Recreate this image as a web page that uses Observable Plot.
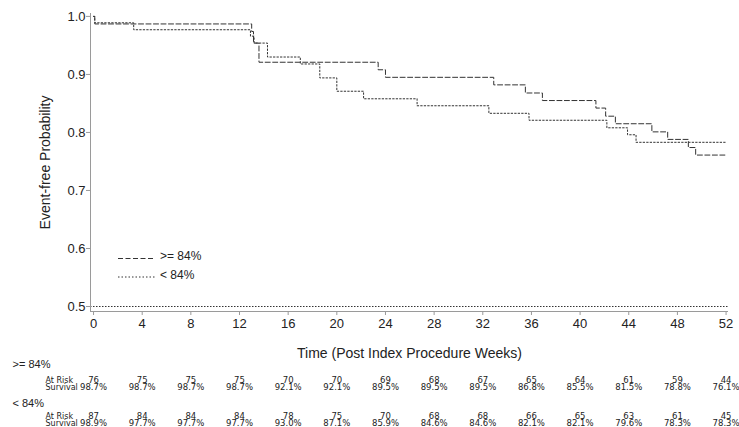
<!DOCTYPE html>
<html>
<head>
<meta charset="utf-8">
<script src="https://cdn.jsdelivr.net/npm/d3@7"></script>
<script src="https://cdn.jsdelivr.net/npm/@observablehq/plot@0.6"></script>
<style>
  body { margin: 0; background: #fff; }
  svg { display: block; }
</style>
</head>
<body>
<div id="chart"></div>
<script>
// Kaplan–Meier event-free probability, two groups
const groups = [">= 84%", "< 84%"];

// >= 84% group: event times (weeks) and survival after each step
const highTimes = [0, 0.1, 13.0, 13.15, 13.6, 23.4, 24.0, 32.9, 35.5, 36.9, 41.3, 42.1, 42.9, 45.9, 47.2, 48.9, 49.5, 52.0];
const highSurv  = [1.0, 0.987, 0.974, 0.954, 0.921, 0.908, 0.895, 0.882, 0.868, 0.855, 0.842, 0.828, 0.815, 0.801, 0.788, 0.774, 0.761, 0.761];

// < 84% group
const lowTimes = [0, 0.1, 3.3, 12.9, 13.2, 14.3, 17.0, 18.6, 20.0, 22.2, 26.6, 32.5, 35.8, 42.2, 43.9, 44.6, 52.0];
const lowSurv  = [1.0, 0.989, 0.977, 0.966, 0.954, 0.930, 0.918, 0.894, 0.871, 0.858, 0.846, 0.833, 0.821, 0.808, 0.796, 0.783, 0.783];

// Number-at-risk table
const tableWeeks = [0, 4, 8, 12, 16, 20, 24, 28, 32, 36, 40, 44, 48, 52];
const highAtRisk = [76, 75, 75, 75, 70, 70, 69, 68, 67, 65, 64, 61, 59, 44];
const highSurvivalPct = [98.7, 98.7, 98.7, 98.7, 92.1, 92.1, 89.5, 89.5, 89.5, 86.8, 85.5, 81.5, 78.8, 76.1];
const lowAtRisk = [87, 84, 84, 84, 78, 75, 70, 68, 68, 66, 65, 63, 61, 45];
const lowSurvivalPct = [98.9, 97.7, 97.7, 97.7, 93.0, 87.1, 85.9, 84.6, 84.6, 82.1, 82.1, 79.6, 78.3, 78.3];
const rowLabels = ["At Risk", "Survival"];

const yTicks = [0.5, 0.6, 0.7, 0.8, 0.9, 1.0];
const xTicks = tableWeeks;
const referenceLevel = 0.5;
const xTitle = "Time (Post Index Procedure Weeks)";
const yTitle = "Event-free Probability";

const xDomain = [-0.25, 52.2];
const yDomain = [0.4914, 1.005];

const highData = highTimes.map((t, i) => ({t, s: highSurv[i]}));
const lowData = lowTimes.map((t, i) => ({t, s: lowSurv[i]}));
const pct = v => v.toFixed(1) + "%";
const highRows = tableWeeks.map((t, i) => ({t, n: highAtRisk[i], p: pct(highSurvivalPct[i])}));
const lowRows = tableWeeks.map((t, i) => ({t, n: lowAtRisk[i], p: pct(lowSurvivalPct[i])}));

const FONT = "'Liberation Sans', Arial, Helvetica, sans-serif";
const TABLE_FONT = "'DejaVu Sans', Verdana, sans-serif";
const AXIS = "#9a9a9a";
const INK = "#222";
const mLeft = 90, mTop = 13, mBottom = 116, mRight = 11;
const frameBottom = 427 - mBottom;

// table row offsets below the frame
const tbl = {head1: 53, risk1: 68.5, surv1: 75.5, head2: 92, risk2: 104.5, surv2: 111.5};
const tableText = {lineAnchor: "middle", fontSize: 8.5, fontFamily: TABLE_FONT, fill: INK};
const rowLabel = (label, dy) =>
  Plot.text([label], {text: d => d, frameAnchor: "bottom-left", dx: -45, dy, textAnchor: "start", ...tableText, fontSize: 8});

const plot = Plot.plot({
  width: 739,
  height: 427,
  marginLeft: mLeft,
  marginRight: mRight,
  marginTop: mTop,
  marginBottom: mBottom,
  style: {fontFamily: FONT, fontSize: "13px", color: INK, background: "#fff", overflow: "visible"},
  x: {domain: xDomain},
  y: {domain: yDomain},
  marks: [
    Plot.ruleY([referenceLevel], {stroke: "#333", strokeDasharray: "1.5,1.5"}),
    Plot.ruleX([xDomain[0]], {stroke: AXIS}),
    Plot.ruleY([yDomain[0]], {stroke: AXIS}),
    Plot.axisY({ticks: yTicks, tickFormat: ".1f", tickSize: 4, tickPadding: 1, stroke: AXIS, fill: INK, label: null, fontSize: 13}),
    Plot.axisX({ticks: xTicks, tickSize: 4, tickPadding: 3, stroke: AXIS, fill: INK, label: null, fontSize: 13}),
    Plot.line(highData, {x: "t", y: "s", curve: "step-after", stroke: "#333", strokeWidth: 1, strokeDasharray: "5,2.5"}),
    Plot.line(lowData, {x: "t", y: "s", curve: "step-after", stroke: "#333", strokeWidth: 1, strokeDasharray: "1.5,2"}),
    // axis titles
    Plot.text([yTitle], {text: d => d, frameAnchor: "left", rotate: -90, dx: -44.5, textAnchor: "middle", lineAnchor: "middle", fontSize: 14, fill: INK}),
    Plot.text([xTitle], {text: d => d, frameAnchor: "bottom", dy: 42, textAnchor: "middle", lineAnchor: "middle", fontSize: 14, fill: INK}),
    // at-risk table: group headings and row labels
    Plot.text([groups[0]], {text: d => d, frameAnchor: "bottom-left", dx: -78, dy: tbl.head1, textAnchor: "start", lineAnchor: "middle", fontSize: 11, fill: INK}),
    Plot.text([groups[1]], {text: d => d, frameAnchor: "bottom-left", dx: -78, dy: tbl.head2, textAnchor: "start", lineAnchor: "middle", fontSize: 11, fill: INK}),
    rowLabel(rowLabels[0], tbl.risk1),
    rowLabel(rowLabels[1], tbl.surv1),
    rowLabel(rowLabels[0], tbl.risk2),
    rowLabel(rowLabels[1], tbl.surv2),
    // at-risk table values, aligned to the week ticks
    Plot.text(highRows, {x: "t", text: "n", frameAnchor: "bottom", dy: tbl.risk1, ...tableText}),
    Plot.text(highRows, {x: "t", text: "p", frameAnchor: "bottom", dy: tbl.surv1, ...tableText}),
    Plot.text(lowRows, {x: "t", text: "n", frameAnchor: "bottom", dy: tbl.risk2, ...tableText}),
    Plot.text(lowRows, {x: "t", text: "p", frameAnchor: "bottom", dy: tbl.surv2, ...tableText})
  ]
});

// In-plot legend, lower left of the frame
const svg = d3.select(plot);
const legend = svg.append("g")
  .attr("font-family", FONT).attr("font-size", 12)
  .attr("fill", INK).attr("text-anchor", "start");
const dashes = ["5,2.5", "1.5,2"];
groups.forEach((g, i) => {
  const y = frameBottom - 53 + i * 18.5;
  legend.append("line")
    .attr("x1", mLeft + 28).attr("x2", mLeft + 65)
    .attr("y1", y + 0.5).attr("y2", y + 0.5)
    .attr("stroke", "#333").attr("stroke-dasharray", dashes[i]);
  legend.append("text")
    .attr("x", mLeft + 70).attr("y", y - 2).attr("dy", "0.35em")
    .text(g);
});

document.getElementById("chart").appendChild(plot);
</script>
</body>
</html>
